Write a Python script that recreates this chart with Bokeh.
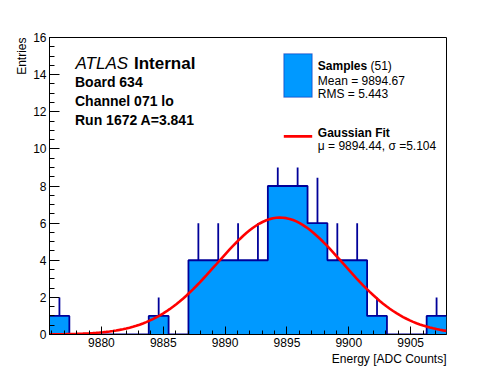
import numpy as np
from bokeh.plotting import figure
from bokeh.models import Range1d, SingleIntervalTicker, Label, BoxAnnotation, Title
from bokeh.embed import file_html
from bokeh.resources import INLINE

# ---------------- data ----------------
X_LO, X_HI = 9875.8, 9907.9
N_BINS = 20
COUNTS = [1, 0, 0, 0, 0, 1, 0, 4, 4, 4, 4, 8, 8, 6, 4, 4, 1, 0, 0, 1]
ERR_UP = [1, 0, 0, 0, 0, 1, 0, 2, 2, 2, 2, 1, 1, 2.45, 2, 2, 1, 0, 0, 1]
FIT_MU = 9894.44
FIT_SIGMA = 5.104
FIT_AMP = 6.3
N_ENTRIES = 51
MEAN = 9894.67
RMS = 5.443
X_TITLE = "Energy [ADC Counts]"
Y_TITLE = "Entries"

FONT = "Liberation Sans"
FILL = "#0099ff"
NAVY = "#000099"

# ---------------- geometry (page pixels) ----------------
W, H = 490, 368
FL, FR, FT, FB = 49, 446, 37, 334  # frame edges


def px2x(px):
    return X_LO + (px - FL) * (X_HI - X_LO) / (FR - FL)


def px2y(py):
    return 16 - (py - FT) * 16.0 / (FB - FT)


p = figure(width=W, height=H, output_backend="svg", toolbar_location=None,
           x_range=Range1d(X_LO, X_HI), y_range=Range1d(0, 16),
           min_border_left=FL, min_border_right=W - FR,
           min_border_top=FT, min_border_bottom=H - FB)
p.grid.visible = False
p.background_fill_color = "white"
p.border_fill_color = "white"
p.outline_line_color = "black"
p.outline_line_width = 1

p.xaxis.ticker = SingleIntervalTicker(interval=5, num_minor_ticks=5)
p.yaxis.ticker = SingleIntervalTicker(interval=2, num_minor_ticks=4)
for ax in (p.xaxis[0], p.yaxis[0]):
    ax.axis_line_color = "black"
    ax.major_tick_line_color = "black"
    ax.minor_tick_line_color = "black"
    ax.major_tick_out = 0
    ax.minor_tick_out = 0
    ax.major_label_text_font = FONT
    ax.major_label_text_font_size = "12px"
    ax.major_label_text_color = "black"
p.xaxis.major_tick_in = 8
p.xaxis.minor_tick_in = 4
p.yaxis.major_tick_in = 10
p.yaxis.minor_tick_in = 5
p.xaxis.major_label_standoff = 3
p.yaxis.major_label_standoff = 3

# axis titles, right-aligned at the end of each axis (ROOT style)
p.add_layout(Title(text=X_TITLE, align="right", text_font=FONT, text_font_size="12px",
                   text_font_style="normal", text_color="black", standoff=0, offset=0), "below")
p.add_layout(Title(text=Y_TITLE, align="right", text_font=FONT, text_font_size="12px",
                   text_font_style="normal", text_color="black", standoff=4, offset=0), "left")

# ---------------- histogram ----------------
edges = np.linspace(X_LO, X_HI, N_BINS + 1)
counts = np.array(COUNTS, dtype=float)
err = np.array(ERR_UP, dtype=float)
centers = 0.5 * (edges[:-1] + edges[1:])

# step outline of the histogram, filled as a single patch
sx = np.repeat(edges, 2)[1:-1]
sy = np.repeat(counts, 2)
px_ = np.concatenate([[edges[0]], sx, [edges[-1]]])
py_ = np.concatenate([[0.0], sy, [0.0]])
p.patch(px_, py_, fill_color=FILL, line_color=None)
p.line(sx, sy, line_color=NAVY, line_width=1.8)

# error bars (upward)
mask = counts > 0
p.segment(x0=centers[mask], y0=counts[mask], x1=centers[mask], y1=(counts + err)[mask],
          line_color=NAVY, line_width=1.8)

# ---------------- gaussian fit ----------------
gx = np.linspace(X_LO, X_HI, 120)
gy = FIT_AMP * np.exp(-0.5 * ((gx - FIT_MU) / FIT_SIGMA) ** 2)
p.line(gx, gy, line_color="#ff0000", line_width=2.6)


# ---------------- texts ----------------
def label(text, px, py, size, style="normal", align="left", angle=0.0):
    p.add_layout(Label(x=px2x(px), y=px2y(py), text=text, text_font=FONT,
                       text_font_size=f"{size}px", text_font_style=style,
                       text_align=align, text_baseline="alphabetic",
                       text_color="black", angle=angle))


label("ATLAS", 75, 62.7, 17, "italic")
label("Internal", 133.5, 62.7, 17, "bold")
label("Board 634", 74.5, 81, 14, "bold")
label("Channel 071 lo", 74.5, 100, 14, "bold")
label("Run 1672 A=3.841", 74.5, 119, 14, "bold")

# legend
p.add_layout(BoxAnnotation(left=px2x(283.3), right=px2x(311.7), top=px2y(53.3), bottom=px2y(96.7),
                           fill_color=FILL, fill_alpha=1, line_color=NAVY, line_width=1.5, level="overlay"))
label("Samples", 317.3, 65, 12, "bold")
label(f"({N_ENTRIES})", 370, 65, 12)
label(f"Mean = {MEAN:.2f}", 317.3, 80.5, 12)
label(f"RMS = {RMS:.3f}", 317.3, 93.5, 12)

p.add_layout(BoxAnnotation(left=px2x(283.3), right=px2x(311.7), top=px2y(134.6), bottom=px2y(137.2),
                           fill_color="#ff0000", fill_alpha=1, line_color=None, level="overlay"))
label("Gaussian Fit", 317.3, 132.7, 12, "bold")
label(f"\u03bc = {FIT_MU:.2f}, \u03c3 ={FIT_SIGMA:.3f}", 317.3, 145, 12)

open("out.html", "w").write(file_html(p, INLINE))
